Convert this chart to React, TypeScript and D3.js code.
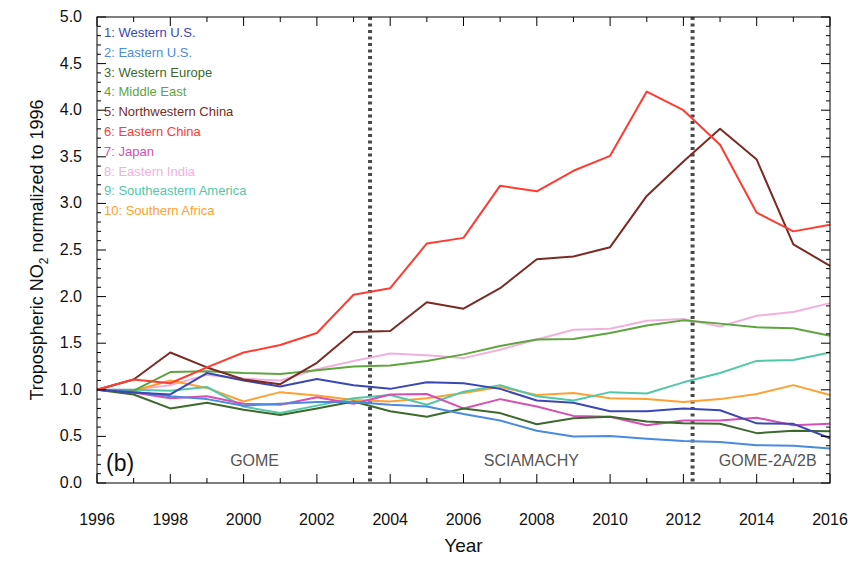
import { useMemo } from 'react';
import { scaleLinear, line, range } from 'd3';

const years = range(1996, 2017);

const regionNames = [
  '1: Western U.S.',
  '2: Eastern U.S.',
  '3: Western Europe',
  '4: Middle East',
  '5: Northwestern China',
  '6: Eastern China',
  '7: Japan',
  '8: Eastern India',
  '9: Southeastern America',
  '10: Southern Africa',
];

const regionColors = [
  '#3b47b2',
  '#4a8be0',
  '#3c6a2d',
  '#5ea53f',
  '#7b2b24',
  '#ff3c32',
  '#d64fb4',
  '#f0b2dc',
  '#52c8a8',
  '#ffa033',
];

const westernUS = [1.0, 0.97, 0.95, 1.18, 1.1, 1.035, 1.115, 1.05, 1.01, 1.08, 1.07, 1.01, 0.885, 0.86, 0.77, 0.77, 0.8, 0.78, 0.64, 0.635, 0.48];
const easternUS = [1.0, 0.98, 0.93, 0.9, 0.83, 0.85, 0.87, 0.87, 0.84, 0.82, 0.74, 0.67, 0.56, 0.5, 0.505, 0.475, 0.45, 0.44, 0.405, 0.4, 0.37];
const westernEurope = [1.0, 0.95, 0.8, 0.86, 0.785, 0.73, 0.8, 0.875, 0.77, 0.71, 0.8, 0.75, 0.63, 0.695, 0.71, 0.66, 0.64, 0.635, 0.535, 0.56, 0.555];
const middleEast = [1.0, 0.99, 1.19, 1.2, 1.18, 1.17, 1.21, 1.25, 1.26, 1.31, 1.38, 1.47, 1.54, 1.545, 1.61, 1.69, 1.745, 1.71, 1.67, 1.66, 1.58];
const nwChina = [1.0, 1.11, 1.4, 1.24, 1.11, 1.06, 1.29, 1.62, 1.63, 1.94, 1.87, 2.09, 2.4, 2.43, 2.53, 3.08, 3.45, 3.8, 3.47, 2.56, 2.33];
const eastChina = [1.0, 1.11, 1.07, 1.24, 1.4, 1.48, 1.61, 2.02, 2.09, 2.57, 2.63, 3.19, 3.13, 3.35, 3.51, 4.2, 4.0, 3.63, 2.9, 2.7, 2.77];
const japan = [1.0, 0.97, 0.91, 0.93, 0.85, 0.84, 0.92, 0.85, 0.95, 0.955, 0.8, 0.9, 0.82, 0.72, 0.71, 0.62, 0.67, 0.67, 0.7, 0.62, 0.635];
const eastIndia = [1.0, 1.0, 1.05, 1.16, 1.12, 1.1, 1.22, 1.31, 1.39, 1.37, 1.34, 1.43, 1.54, 1.645, 1.655, 1.74, 1.76, 1.68, 1.795, 1.835, 1.93];
const seAmerica = [1.0, 1.0, 0.99, 1.03, 0.82, 0.75, 0.83, 0.91, 0.945, 0.84, 0.98, 1.05, 0.93, 0.885, 0.975, 0.96, 1.08, 1.18, 1.31, 1.32, 1.4];
const sAfrica = [1.0, 0.99, 1.1, 1.02, 0.875, 0.975, 0.94, 0.89, 0.875, 0.91, 0.965, 1.03, 0.945, 0.965, 0.91, 0.9, 0.87, 0.9, 0.955, 1.05, 0.945];

const seriesValues = [westernUS, easternUS, westernEurope, middleEast, nwChina, eastChina, japan, eastIndia, seAmerica, sAfrica];

// drawing order: light lines first so the heavy ones sit on top
const drawOrder = [7, 9, 8, 6, 3, 2, 1, 0, 4, 5];

const instrumentBreaks = [2003.45, 2012.25];
const instruments = [
  { name: 'GOME', at: 2000.3 },
  { name: 'SCIAMACHY', at: 2007.85 },
  { name: 'GOME-2A/2B', at: 2014.3 },
];

const yearTicks = range(1996, 2017, 2);
const valueTicks = range(0, 5.01, 0.5);

const W = 860;
const H = 562;
const margin = { top: 17, right: 30, bottom: 79, left: 97 };

export default function App() {
  const x = useMemo(() => scaleLinear().domain([1996, 2016]).range([margin.left, W - margin.right]), []);
  const y = useMemo(() => scaleLinear().domain([0, 5]).range([H - margin.bottom, margin.top]), []);

  const path = line<number>()
    .x((_, i) => x(years[i]))
    .y((d) => y(d));

  const x0 = x.range()[0];
  const x1 = x.range()[1];
  const y0 = y.range()[0];
  const y1 = y.range()[1];
  const font = 'Liberation Sans, Arial, Helvetica, sans-serif';

  const minorY = range(0, 5.001, 0.1);

  return (
    <div style={{ margin: -8, width: W, height: H, background: '#fff' }}>
      <svg width={W} height={H} style={{ display: 'block', fontFamily: font }}>
        {/* instrument period dividers */}
        {instrumentBreaks.map((b) => (
          <line key={b} x1={x(b)} x2={x(b)} y1={y1} y2={y0} stroke="#4a4a4a" strokeWidth={4} strokeDasharray="3,3.5" />
        ))}

        {drawOrder.map((k) => (
          <path key={k} d={path(seriesValues[k]) ?? ''} fill="none" stroke={regionColors[k]} strokeWidth={2} strokeLinejoin="round" />
        ))}

        {/* frame */}
        <rect x={x0} y={y1} width={x1 - x0} height={y0 - y1} fill="none" stroke="#000" strokeWidth={1} />

        {/* x ticks, bottom and top */}
        {years.map((yr) => {
          const len = yr % 2 === 0 ? 9 : 5;
          return (
            <g key={yr}>
              <line x1={x(yr)} x2={x(yr)} y1={y0} y2={y0 - len} stroke="#000" />
              <line x1={x(yr)} x2={x(yr)} y1={y1} y2={y1 + len} stroke="#000" />
            </g>
          );
        })}
        {yearTicks.map((yr) => (
          <text key={yr} x={x(yr)} y={y0 + 42} textAnchor="middle" fontSize={16} fill="#111">
            {yr}
          </text>
        ))}

        {/* y ticks, left and right */}
        {minorY.map((v, i) => {
          const len = i % 5 === 0 ? 9 : 4;
          return (
            <g key={i}>
              <line x1={x0} x2={x0 + len} y1={y(v)} y2={y(v)} stroke="#000" />
              <line x1={x1} x2={x1 - len} y1={y(v)} y2={y(v)} stroke="#000" />
            </g>
          );
        })}
        {valueTicks.map((v) => (
          <text key={v} x={x0 - 15} y={y(v) + 5} textAnchor="end" fontSize={16} fill="#111">
            {v.toFixed(1)}
          </text>
        ))}

        <text x={(x0 + x1) / 2} y={H - 10} textAnchor="middle" fontSize={19} fill="#111">
          Year
        </text>
        <text transform={`translate(43, ${(y0 + y1) / 2}) rotate(-90)`} textAnchor="middle" fontSize={18} fill="#111">
          Tropospheric NO
          <tspan fontSize={12} dy={5}>2</tspan>
          <tspan dy={-5}> normalized to 1996</tspan>
        </text>

        {/* legend */}
        {regionNames.map((name, i) => (
          <text key={name} x={x0 + 7} y={y1 + 20 + i * 19.8} fontSize={13} fill={regionColors[i]}>
            {name}
          </text>
        ))}

        {/* panel label and instruments */}
        <text x={x0 + 9} y={y0 - 12} fontSize={23} fill="#111">
          (b)
        </text>
        {instruments.map((d) => (
          <text key={d.name} x={x(d.at)} y={y0 - 17} textAnchor="middle" fontSize={16} fill="#555">
            {d.name}
          </text>
        ))}
      </svg>
    </div>
  );
}
